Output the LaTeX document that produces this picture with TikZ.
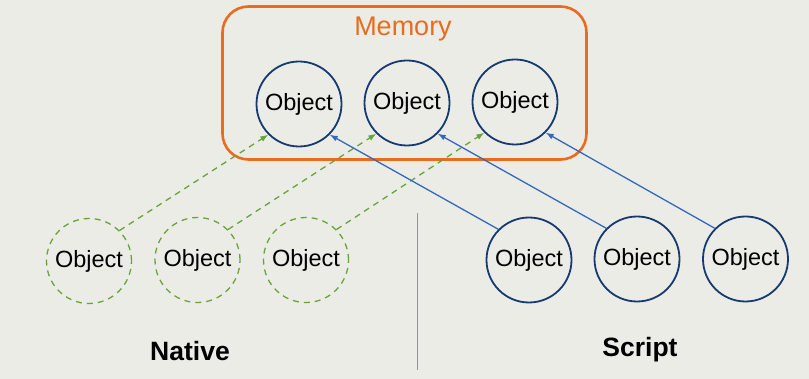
\documentclass[tikz,border=0pt]{standalone}
\usepackage{fontspec}
\setmainfont{Liberation Sans}
\usetikzlibrary{arrows.meta}
\definecolor{bg}{RGB}{236,236,231}
\definecolor{circblue}{RGB}{22,58,112}
\definecolor{arrblue}{RGB}{52,104,190}
\definecolor{dgreen}{RGB}{104,164,58}
\definecolor{memorange}{RGB}{232,108,28}
\definecolor{divgray}{RGB}{150,150,150}
\begin{document}
\begin{tikzpicture}[x=1pt,y=-1pt,
  obj/.style={circle,draw=circblue,line width=1.8pt,minimum size=85pt,inner sep=0pt,font=\fontsize{23.5}{25}\selectfont},
  nat/.style={circle,draw=dgreen,line width=1.3pt,dash pattern=on 6pt off 5pt,minimum size=85pt,inner sep=0pt,font=\fontsize{23.5}{25}\selectfont},
  garr/.style={draw=dgreen,line width=1.3pt,dash pattern=on 6pt off 5pt,-{Latex[length=8pt,width=6pt]}},
  barr/.style={draw=arrblue,line width=1.3pt,-{Latex[length=8pt,width=6pt]}},
  lbl/.style={font=\bfseries\fontsize{26.5}{28}\selectfont}]
\fill[bg] (0,0) rectangle (809,379);
\useasboundingbox (0,0) rectangle (809,379);
\node (mem) [draw=memorange,line width=2.6pt,rounded corners=26pt,minimum width=364pt,minimum height=153pt,inner sep=0pt] at (404.5,83) {};
\node (memlbl) [text=memorange,font=\fontsize{27}{29}\selectfont] at (403,29) {Memory};
\node (m1) [obj] at (299,104) {Object};
\node (m2) [obj] at (407,103) {Object};
\node (m3) [obj] at (515,102) {Object};
\node (n1) [nat] at (89,261) {Object};
\node (n2) [nat] at (197.5,260) {Object};
\node (n3) [nat] at (306,260) {Object};
\node (s1) [obj] at (529,260) {Object};
\node (s2) [obj] at (637,259) {Object};
\node (s3) [obj] at (745.5,259) {Object};
\coordinate (dtop) at (417,213);
\coordinate (dbot) at (417,370);
\draw[divgray,line width=0.8pt] (dtop) -- (dbot);
\node (native) [lbl] at (190,351) {Native};
\node (script) [lbl] at (640,350) {Script};
\draw[garr] (n1.45) -- (m1.225);
\draw[garr] (n2.45) -- (m2.225);
\draw[garr] (n3.45) -- (m3.225);
\draw[barr] (s1.135) -- (m1.-45);
\draw[barr] (s2.135) -- (m2.-45);
\draw[barr] (s3.135) -- (m3.-45);
\end{tikzpicture}
\end{document}
